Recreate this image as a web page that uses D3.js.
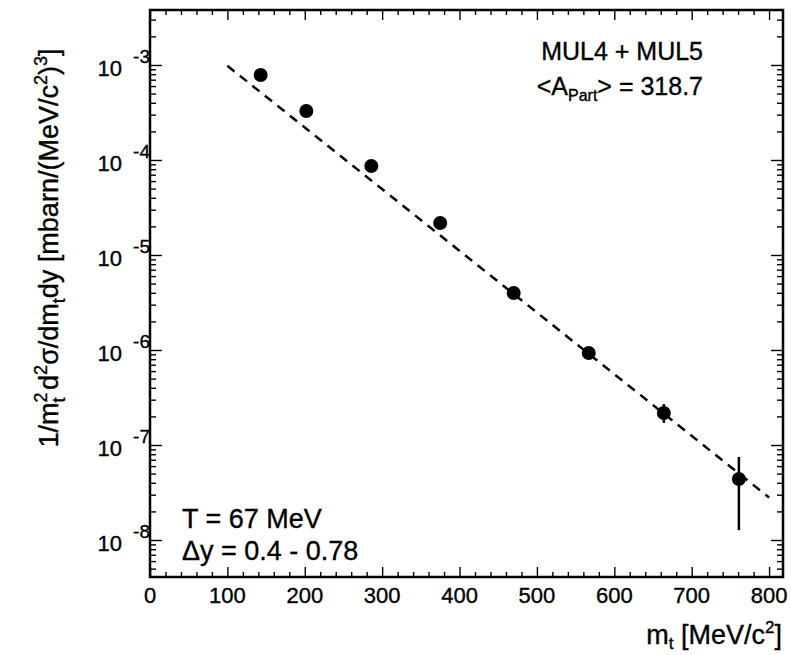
<!DOCTYPE html>
<html>
<head>
<meta charset="utf-8">
<script src="https://cdn.jsdelivr.net/npm/d3@7"></script>
<style>
  body { margin: 0; background: #fff; }
  svg text { font-family: "Liberation Sans", Arial, Helvetica, sans-serif; fill: #000; stroke: #000; stroke-width: 0.35; }
  .axis path { display: none; }
  .axis line { stroke: #000; stroke-width: 1.4; }
</style>
</head>
<body>
<svg id="chart" width="791" height="655"></svg>
<script>
// 1. data
const mt = [143, 202, 286, 375, 470, 567, 664, 761];
const spectrum = [7.85e-4, 3.28e-4, 8.65e-5, 2.17e-5, 3.98e-6, 9.3e-7, 2.17e-7, 4.38e-8];
const errLow = [null, null, null, null, null, null, 1.71e-7, 1.27e-8];
const errHigh = [null, null, null, null, null, null, 2.70e-7, 7.48e-8];

// exponential fit, T = 67 MeV (end points of the dashed line)
const fitX = [100, 800];
const fitY = [9.8e-4, 2.8e-8];

const xTicks = [0, 100, 200, 300, 400, 500, 600, 700, 800];
const yDecades = [-3, -4, -5, -6, -7, -8];

// 2. frame
const frame = { left: 150, top: 10, right: 783, bottom: 577 };

const x = d3.scaleLinear()
  .domain([0, 818])
  .range([frame.left, frame.right]);

const y = d3.scaleLog()
  .domain([4.08e-9, 3.79e-3])
  .range([frame.bottom, frame.top]);

const svg = d3.select("#chart");

// minor tick values
const xMinor = d3.range(20, 818, 20).filter(d => d % 100 !== 0);
const yMinor = [];
for (let e = -9; e <= -3; e++) {
  for (let k = 2; k <= 9; k++) {
    const v = k * Math.pow(10, e);
    if (v > y.domain()[0] && v < y.domain()[1]) yMinor.push(v);
  }
}
const yMajor = yDecades.map(e => Math.pow(10, e));

// 3. axes, ticks pointing inwards on all four sides
function addAxis(axisFn, scale, values, size, transform) {
  svg.append("g")
    .attr("class", "axis")
    .attr("transform", transform)
    .call(axisFn(scale).tickValues(values).tickSize(size).tickFormat(""));
}
const W = frame.right - frame.left, H = frame.bottom - frame.top;
addAxis(d3.axisBottom, x, xTicks, -10, `translate(0,${frame.bottom})`);
addAxis(d3.axisBottom, x, xMinor, -5, `translate(0,${frame.bottom})`);
addAxis(d3.axisTop, x, xTicks, -10, `translate(0,${frame.top})`);
addAxis(d3.axisTop, x, xMinor, -5, `translate(0,${frame.top})`);
addAxis(d3.axisLeft, y, yMajor, -12, `translate(${frame.left},0)`);
addAxis(d3.axisLeft, y, yMinor, -6, `translate(${frame.left},0)`);
addAxis(d3.axisRight, y, yMajor, -12, `translate(${frame.right},0)`);
addAxis(d3.axisRight, y, yMinor, -6, `translate(${frame.right},0)`);

svg.append("rect")
  .attr("x", frame.left)
  .attr("y", frame.top)
  .attr("width", W)
  .attr("height", H)
  .attr("fill", "none")
  .attr("stroke", "#000")
  .attr("stroke-width", 2.5);

// x tick labels
svg.append("g").selectAll("text")
  .data(xTicks).enter()
  .append("text")
  .attr("x", d => x(d))
  .attr("y", 603)
  .attr("text-anchor", "middle")
  .style("font-size", "22px")
  .text(d => d);

// y tick labels 10^-n
const yl = svg.append("g").selectAll("g")
  .data(yDecades).enter()
  .append("g");
yl.append("text")
  .attr("x", 122)
  .attr("y", d => y(Math.pow(10, d)) + 11)
  .attr("text-anchor", "end")
  .style("font-size", "22px")
  .text("10");
yl.append("text")
  .attr("x", 150)
  .attr("y", d => y(Math.pow(10, d)) - 2)
  .attr("text-anchor", "end")
  .style("font-size", "19px")
  .text(d => "-" + Math.abs(d));

// 4. fit line
svg.append("line")
  .attr("x1", x(fitX[0]))
  .attr("y1", y(fitY[0]))
  .attr("x2", x(fitX[1]))
  .attr("y2", y(fitY[1]))
  .attr("stroke", "#000")
  .attr("stroke-width", 2.5)
  .attr("stroke-dasharray", "9,7");

// 5. points and error bars
const pts = mt.map((m, i) => ({ m, v: spectrum[i], lo: errLow[i], hi: errHigh[i] }));
svg.append("g").selectAll("line")
  .data(pts.filter(d => d.lo !== null)).enter()
  .append("line")
  .attr("x1", d => x(d.m))
  .attr("x2", d => x(d.m))
  .attr("y1", d => y(d.hi))
  .attr("y2", d => y(d.lo))
  .attr("stroke", "#000")
  .attr("stroke-width", 2.5);
svg.append("g").selectAll("circle")
  .data(pts).enter()
  .append("circle")
  .attr("cx", d => x(d.m))
  .attr("cy", d => y(d.v))
  .attr("r", 7)
  .attr("fill", "#000");

// 6. labels
const yLabel = svg.append("text")
  .attr("transform", "translate(58,248) rotate(-90)")
  .attr("text-anchor", "middle")
  .style("font-size", "27px");
yLabel.append("tspan").text("1/m");
yLabel.append("tspan").attr("dy", -11).style("font-size", "18px").text("2");
yLabel.append("tspan").attr("dx", -10).attr("dy", 18).style("font-size", "18px").text("t");
yLabel.append("tspan").attr("dy", -7).text(" d");
yLabel.append("tspan").attr("dy", -11).style("font-size", "18px").text("2");
yLabel.append("tspan").attr("dy", 11).text("\u03c3/dm");
yLabel.append("tspan").attr("dy", 7).style("font-size", "18px").text("t");
yLabel.append("tspan").attr("dy", -7).text("dy [mbarn/(MeV/c");
yLabel.append("tspan").attr("dy", -11).style("font-size", "18px").text("2");
yLabel.append("tspan").attr("dy", 11).text(")");
yLabel.append("tspan").attr("dy", -11).style("font-size", "18px").text("3");
yLabel.append("tspan").attr("dy", 11).text("]");

const xLabel = svg.append("text")
  .attr("x", 782)
  .attr("y", 644)
  .attr("text-anchor", "end")
  .style("font-size", "27px");
xLabel.append("tspan").text("m");
xLabel.append("tspan").attr("dy", 5).style("font-size", "17px").text("t");
xLabel.append("tspan").attr("dy", -5).text(" [MeV/c");
xLabel.append("tspan").attr("dy", -11).style("font-size", "17px").text("2");
xLabel.append("tspan").attr("dy", 11).text("]");

svg.append("text")
  .attr("x", 703)
  .attr("y", 60)
  .attr("text-anchor", "end")
  .style("font-size", "25px")
  .text("MUL4 + MUL5");
const apart = svg.append("text")
  .attr("x", 703)
  .attr("y", 95)
  .attr("text-anchor", "end")
  .style("font-size", "25px");
apart.append("tspan").text("<A");
apart.append("tspan").attr("dy", 6).style("font-size", "16px").text("Part");
apart.append("tspan").attr("dy", -6).text("> = 318.7");

svg.append("text")
  .attr("x", 182)
  .attr("y", 528)
  .style("font-size", "27px")
  .text("T = 67 MeV");
svg.append("text")
  .attr("x", 182)
  .attr("y", 560)
  .style("font-size", "27px")
  .text("\u0394y = 0.4 - 0.78");
</script>
</body>
</html>
